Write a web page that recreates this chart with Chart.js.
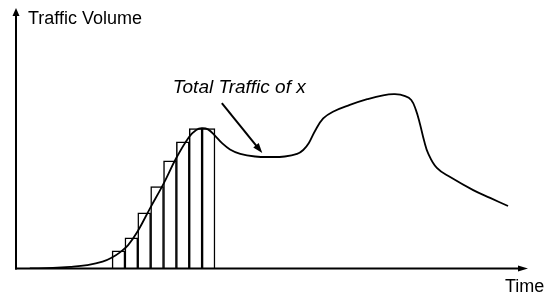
<!DOCTYPE html>
<html>
<head>
<meta charset="utf-8">
<script src="https://cdn.jsdelivr.net/npm/chart.js@4"></script>
<style>
html,body{margin:0;padding:0;background:#fff;}
#wrap{width:549px;height:294px;position:relative;}
</style>
</head>
<body>
<div id="wrap"><canvas id="c" width="549" height="294"></canvas></div>
<script>
// Time axis runs 0..100, traffic volume 0..100 (arbitrary units)
const curveTime = [2.7, 7.2, 10.6, 13.9, 16.9, 18.9, 20.3, 21.9, 23.8, 26.2, 28.7, 31.3, 33.8, 35.2, 36.3, 37.5, 38.9, 40.2, 41.8, 43.8, 46.7, 49.6, 52.5, 54.9, 56.1, 57.2, 58.4, 60.0, 61.9, 65.2, 68.6, 71.7, 74.0, 76.0, 77.2, 78.1, 78.9, 79.7, 80.5, 82.2, 84.8, 89.3, 92.6, 96.1];
const curveVolume = [0.0, 0.2, 0.6, 1.3, 2.6, 4.4, 6.2, 9.0, 14.4, 23.2, 32.1, 42.4, 50.5, 53.2, 53.9, 53.4, 50.9, 48.2, 45.7, 44.0, 43.0, 42.8, 43.0, 44.0, 45.5, 48.2, 52.8, 57.6, 60.2, 62.8, 65.0, 66.5, 66.9, 66.2, 64.7, 60.9, 55.5, 49.1, 44.2, 38.6, 35.1, 30.1, 27.1, 24.0];
const barTime = [20.02, 22.53, 25.04, 27.56, 30.07, 32.58, 35.09, 37.61];
const barVolume = [6.8, 11.8, 21.4, 31.4, 41.3, 48.6, 53.7, 53.7];
const axisLabels = {y: 'Traffic Volume', x: 'Time'};
const annotationText = 'Total Traffic of x';
const annotationAt = {x: 30.6, y: 67.5};
const arrowFrom = {x: 40.2, y: 63.5};
const arrowTo = {x: 48.1, y: 44.3};

const FONT = '"Liberation Sans", Arial, Helvetica, sans-serif';

const decor = {
  id: 'decor',
  afterDraw(chart) {
    const ctx = chart.ctx;
    const xs = chart.scales.x, ys = chart.scales.y;
    const x0 = xs.getPixelForValue(0), y0 = ys.getPixelForValue(0);
    const xEnd = xs.getPixelForValue(100), yEnd = ys.getPixelForValue(100);
    ctx.save();
    ctx.strokeStyle = '#000';
    ctx.fillStyle = '#000';
    ctx.lineWidth = 2;
    ctx.lineCap = 'butt';
    // y axis
    ctx.beginPath();
    ctx.moveTo(x0, y0 + 1);
    ctx.lineTo(x0, yEnd + 6);
    ctx.stroke();
    ctx.beginPath();
    ctx.moveTo(x0, yEnd);
    ctx.lineTo(x0 - 3.5, yEnd + 8);
    ctx.lineTo(x0 + 3.5, yEnd + 8);
    ctx.closePath();
    ctx.fill();
    // x axis
    ctx.beginPath();
    ctx.moveTo(x0 - 1, y0);
    ctx.lineTo(xEnd - 6, y0);
    ctx.stroke();
    ctx.beginPath();
    ctx.moveTo(xEnd, y0);
    ctx.lineTo(xEnd - 10, y0 - 3);
    ctx.lineTo(xEnd - 10, y0 + 3);
    ctx.closePath();
    ctx.fill();
    // axis labels
    ctx.font = '18px ' + FONT;
    ctx.textBaseline = 'alphabetic';
    ctx.textAlign = 'left';
    ctx.fillText(axisLabels.y, x0 + 12, yEnd + 15.5);
    ctx.fillText(axisLabels.x, xEnd - 23, y0 + 23);
    // annotation
    ctx.font = 'italic 19px ' + FONT;
    ctx.fillText(annotationText, xs.getPixelForValue(annotationAt.x), ys.getPixelForValue(annotationAt.y));
    const ax1 = xs.getPixelForValue(arrowFrom.x), ay1 = ys.getPixelForValue(arrowFrom.y);
    const ax2 = xs.getPixelForValue(arrowTo.x), ay2 = ys.getPixelForValue(arrowTo.y);
    const ang = Math.atan2(ay2 - ay1, ax2 - ax1);
    const hl = 10, hw = 3.5;
    ctx.lineWidth = 2;
    ctx.beginPath();
    ctx.moveTo(ax1, ay1);
    ctx.lineTo(ax2 - Math.cos(ang) * (hl - 2), ay2 - Math.sin(ang) * (hl - 2));
    ctx.stroke();
    ctx.beginPath();
    ctx.moveTo(ax2, ay2);
    ctx.lineTo(ax2 - Math.cos(ang) * hl - Math.sin(ang) * hw, ay2 - Math.sin(ang) * hl + Math.cos(ang) * hw);
    ctx.lineTo(ax2 - Math.cos(ang) * hl + Math.sin(ang) * hw, ay2 - Math.sin(ang) * hl - Math.cos(ang) * hw);
    ctx.closePath();
    ctx.fill();
    ctx.restore();
  }
};

new Chart(document.getElementById('c'), {
  type: 'line',
  data: {
    datasets: [
      {
        type: 'bar',
        label: 'slices',
        data: barTime.map((t, i) => ({x: t, y: barVolume[i]})),
        backgroundColor: '#ffffff',
        borderColor: '#000000',
        borderWidth: 1.5,
        borderSkipped: 'bottom',
        barPercentage: 1,
        categoryPercentage: 1,
        order: 2
      },
      {
        type: 'line',
        label: 'Total Traffic of x',
        data: curveTime.map((t, i) => ({x: t, y: curveVolume[i]})),
        borderColor: '#000000',
        borderWidth: 1.8,
        pointRadius: 0,
        fill: false,
        tension: 0.4,
        order: 1
      }
    ]
  },
  options: {
    responsive: false,
    animation: false,
    devicePixelRatio: 1,
    layout: {padding: {left: 16, right: 21, top: 8, bottom: 25.5}},
    plugins: {legend: {display: false}, tooltip: {enabled: false}},
    scales: {
      x: {type: 'linear', min: 0, max: 100, offset: false, display: false},
      y: {type: 'linear', min: 0, max: 100, display: false}
    }
  },
  plugins: [decor]
});
</script>
</body>
</html>
